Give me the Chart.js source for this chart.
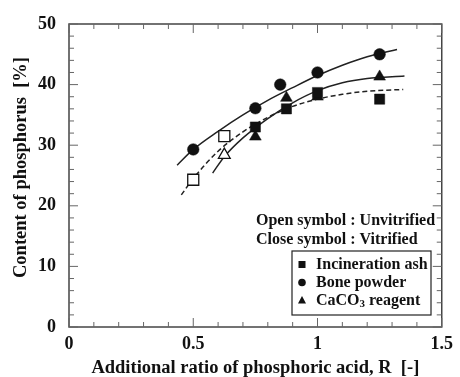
<!DOCTYPE html>
<html>
<head>
<meta charset="utf-8">
<script src="https://cdn.jsdelivr.net/npm/chart.js@4/dist/chart.umd.min.js"></script>
<style>
html,body{margin:0;padding:0;background:#fff;}
canvas{display:block;}
</style>
</head>
<body>
<canvas id="c" width="460" height="377"></canvas>
<script>
// ---- data ----
const xTickValues = [0, 0.5, 1, 1.5];
const xTickLabels = ['0', '0.5', '1', '1.5'];
const yTickValues = [0, 10, 20, 30, 40, 50];
const yTickLabels = ['0', '10', '20', '30', '40', '50'];

// Bone powder (vitrified, filled circles)
const boneR = [0.5, 0.75, 0.85, 1.0, 1.25];
const boneP = [29.3, 36.1, 40.0, 42.0, 45.0];
// Incineration ash (vitrified, filled squares)
const ashR = [0.75, 0.875, 1.0, 1.25];
const ashP = [33.0, 36.0, 38.7, 37.6];
// Incineration ash (unvitrified, open squares)
const ashOpenR = [0.5, 0.625];
const ashOpenP = [24.3, 31.5];
// CaCO3 reagent (vitrified, filled triangles)
const caR = [0.75, 0.875, 1.0, 1.25];
const caP = [31.4, 37.8, 38.0, 41.3];
// CaCO3 reagent (unvitrified, open triangle)
const caOpenR = [0.625];
const caOpenP = [28.4];

// fitted curves
const boneCurveR = [0.435, 0.5, 0.6, 0.7, 0.8, 0.9, 1.0, 1.1, 1.2, 1.32];
const boneCurveP = [26.7, 29.3, 32.3, 35.0, 37.4, 39.5, 41.5, 43.2, 44.6, 45.8];
const caCurveR = [0.578, 0.625, 0.7, 0.8, 0.9, 1.0, 1.1, 1.2, 1.35];
const caCurveP = [25.4, 28.1, 31.2, 34.4, 37.0, 39.0, 40.3, 41.0, 41.4];
const ashCurveR = [0.452, 0.5, 0.6, 0.7, 0.8, 0.9, 1.0, 1.1, 1.2, 1.345];
const ashCurveP = [21.8, 24.5, 29.0, 32.2, 34.6, 36.4, 37.6, 38.4, 38.9, 39.2];

const xTitle = 'Additional ratio of phosphoric acid, R  [-]';
const yTitle = 'Content of phosphorus  [%]';
const noteOpen = 'Open symbol : Unvitrified';
const noteClose = 'Close symbol : Vitrified';
const legendNames = ['Incineration ash', 'Bone powder', 'CaCO'];

// ---- helpers ----
const pts = (xs, ys) => xs.map((x, i) => ({x: x, y: ys[i]}));
const SERIF = '"Liberation Serif", "DejaVu Serif", serif';
const INK = '#111';

function markerSet(label, xs, ys, style, radius, filled) {
  return {
    label: label, data: pts(xs, ys), showLine: false, order: 1,
    pointStyle: style, pointRadius: radius, pointHoverRadius: radius,
    backgroundColor: filled ? INK : '#fff', borderColor: INK,
    pointBackgroundColor: filled ? INK : '#fff', pointBorderColor: INK,
    pointBorderWidth: filled ? 0.5 : 1.3
  };
}
function curveSet(label, xs, ys, dash) {
  return {
    label: label, data: pts(xs, ys), showLine: true, order: 2,
    borderColor: '#222', borderWidth: 1.5, borderDash: dash,
    pointRadius: 0, pointHoverRadius: 0, fill: false,
    cubicInterpolationMode: 'monotone'
  };
}

const frameAndTicks = {
  id: 'frameAndTicks',
  beforeDatasetsDraw(chart) {
    const {ctx, chartArea: a, scales: {x, y}} = chart;
    ctx.save();
    ctx.strokeStyle = '#444';
    ctx.lineWidth = 1.5;
    ctx.strokeRect(a.left, a.top, a.right - a.left, a.bottom - a.top);
    ctx.lineWidth = 1;
    ctx.strokeStyle = '#666';
    ctx.beginPath();
    for (let i = 0; i <= 15; i++) {
      const v = i / 10;
      const px = x.getPixelForValue(v);
      const len = (i % 5 === 0) ? 9 : 5;
      ctx.moveTo(px, a.bottom); ctx.lineTo(px, a.bottom - len);
      ctx.moveTo(px, a.top); ctx.lineTo(px, a.top + len);
    }
    for (let i = 0; i <= 25; i++) {
      const v = i * 2;
      const py = y.getPixelForValue(v);
      const len = (v % 10 === 0) ? 9 : 5;
      ctx.moveTo(a.left, py); ctx.lineTo(a.left + len, py);
      ctx.moveTo(a.right, py); ctx.lineTo(a.right - len, py);
    }
    ctx.stroke();
    // y axis title (rotated)
    ctx.fillStyle = INK;
    ctx.font = 'bold 18.5px ' + SERIF;
    ctx.textAlign = 'center';
    ctx.textBaseline = 'middle';
    ctx.translate(21.5, 167.5);
    ctx.rotate(-Math.PI / 2);
    ctx.fillText(yTitle, 0, 0);
    ctx.restore();
  },
  afterDraw(chart) {
    const {ctx} = chart;
    ctx.save();
    ctx.fillStyle = INK;
    ctx.textBaseline = 'middle';
    ctx.textAlign = 'left';
    ctx.font = 'bold 16px ' + SERIF;
    ctx.fillText(noteOpen, 256, 221);
    ctx.fillText(noteClose, 256, 240);
    // legend box
    ctx.strokeStyle = '#222';
    ctx.lineWidth = 1.2;
    ctx.strokeRect(292, 251, 139, 64);
    const mx = 302;
    const rows = [264.5, 282.5, 300.5];
    // square
    ctx.fillRect(mx - 3.5, rows[0] - 3.5, 7, 7);
    // circle
    ctx.beginPath(); ctx.arc(mx, rows[1], 3.8, 0, Math.PI * 2); ctx.fill();
    // triangle
    ctx.beginPath();
    ctx.moveTo(mx, rows[2] - 4.5); ctx.lineTo(mx + 4, rows[2] + 3); ctx.lineTo(mx - 4, rows[2] + 3);
    ctx.closePath(); ctx.fill();
    ctx.font = 'bold 16px ' + SERIF;
    ctx.fillText(legendNames[0], 316, rows[0]);
    ctx.fillText(legendNames[1], 316, rows[1]);
    ctx.fillText(legendNames[2], 316, rows[2]);
    const w = ctx.measureText(legendNames[2]).width;
    ctx.font = 'bold 11px ' + SERIF;
    ctx.fillText('3', 316 + w, rows[2] + 4);
    const w3 = ctx.measureText('3').width;
    ctx.font = 'bold 16px ' + SERIF;
    ctx.fillText(' reagent', 316 + w + w3, rows[2]);
    ctx.restore();
  }
};

const tickFont = {family: SERIF, size: 18, weight: 'bold'};
const titleFont = {family: SERIF, size: 18.5, weight: 'bold', lineHeight: 1};

new Chart(document.getElementById('c'), {
  type: 'scatter',
  data: {
    datasets: [
      markerSet('Bone powder', boneR, boneP, 'circle', 5.8, true),
      markerSet('Incineration ash', ashR, ashP, 'rect', 7.2, true),
      markerSet('Incineration ash (open)', ashOpenR, ashOpenP, 'rect', 7.8, false),
      markerSet('CaCO3 reagent', caR, caP, 'triangle', 6.8, true),
      markerSet('CaCO3 reagent (open)', caOpenR, caOpenP, 'triangle', 6.8, false),
      curveSet('Bone powder fit', boneCurveR, boneCurveP, []),
      curveSet('CaCO3 fit', caCurveR, caCurveP, []),
      curveSet('Ash fit', ashCurveR, ashCurveP, [5, 3])
    ]
  },
  options: {
    responsive: false,
    animation: false,
    devicePixelRatio: 1,
    layout: {padding: {left: 0, right: 12, top: 24, bottom: 0}},
    plugins: {legend: {display: false}, tooltip: {enabled: false}},
    scales: {
      x: {
        type: 'linear', position: 'bottom', min: 0, max: 1.5,
        afterBuildTicks: s => { s.ticks = xTickValues.map(v => ({value: v})); },
        afterFit: s => { s.height = 50; },
        grid: {display: false, drawTicks: false},
        border: {display: false},
        ticks: {
          padding: 7, color: INK, font: tickFont, maxRotation: 0, autoSkip: false,
          callback: v => { const i = xTickValues.indexOf(v); return i >= 0 ? xTickLabels[i] : ''; }
        },
        title: {display: true, text: xTitle, color: INK, font: titleFont, padding: {top: 0, bottom: 0}}
      },
      y: {
        type: 'linear', position: 'left', min: 0, max: 50,
        afterBuildTicks: s => { s.ticks = yTickValues.map(v => ({value: v})); },
        afterFit: s => { s.width = 69; },
        grid: {display: false, drawTicks: false},
        border: {display: false},
        ticks: {
          padding: 13, color: INK, font: tickFont, autoSkip: false,
          callback: v => { const i = yTickValues.indexOf(v); return i >= 0 ? yTickLabels[i] : ''; }
        },
        title: {display: false}
      }
    }
  },
  plugins: [frameAndTicks]
});
</script>
</body>
</html>
